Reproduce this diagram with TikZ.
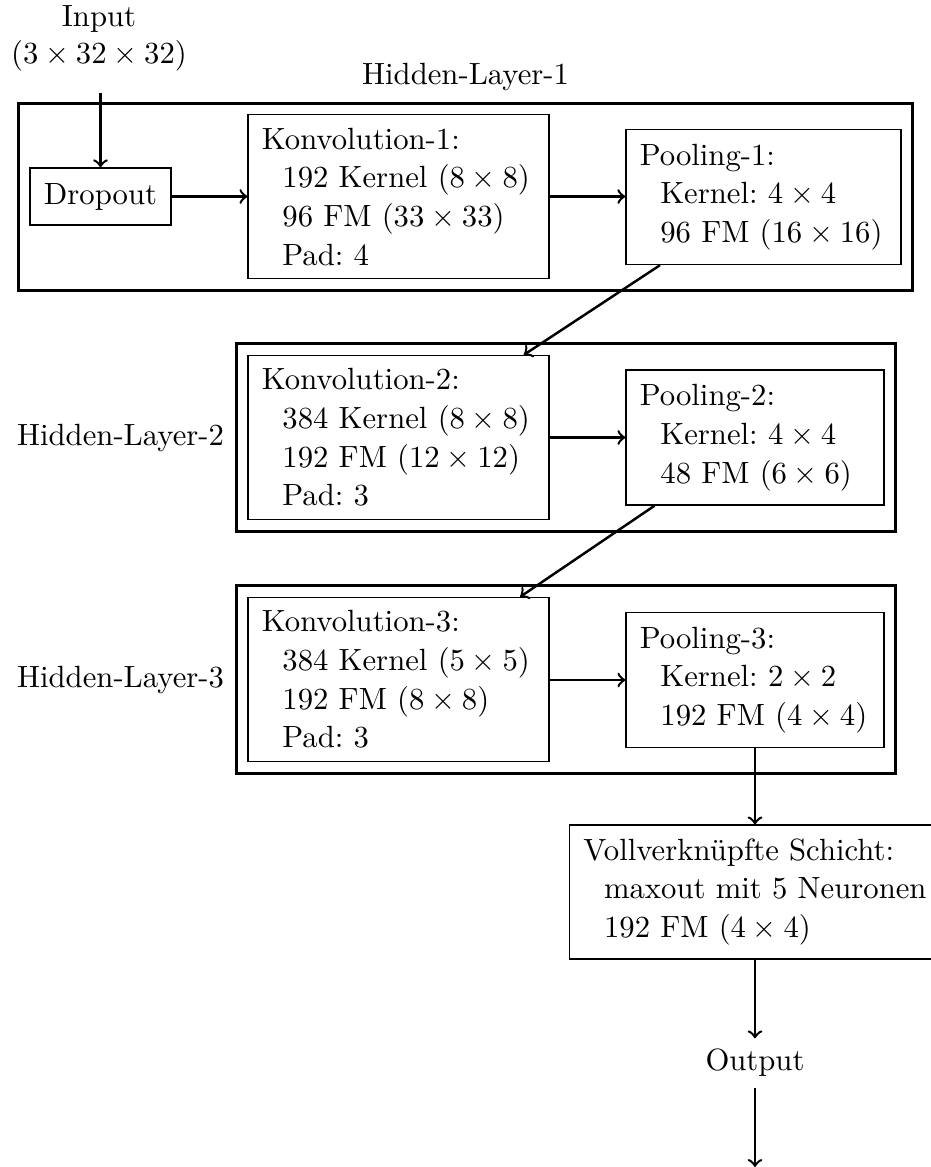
\documentclass[tikz,border=0pt]{standalone}
\usetikzlibrary{fit}
\newcommand\ind{\hspace*{6.7pt}}
\frenchspacing
\begin{document}
\begin{tikzpicture}[x=0.3257pt,y=-0.3257pt,
  box/.style={draw, line width=0.4pt, align=left, inner xsep=4.5pt, inner ysep=3pt,
    font=\fontsize{10}{12.6}\selectfont},
  convbox/.style={box, text width=89pt, minimum height=53.4pt},
  poolbox/.style={box, text width=#1, minimum height=44pt},
  layer/.style={draw, line width=1pt, inner sep=3.6pt},
  conn/.style={->, thick},
]
\useasboundingbox (0,0) rectangle (931,1167);

% input
\node[align=center] (in) at (99,38) {Input\\$(3\times 32\times 32)$};

% hidden layer 1
\node[box, minimum height=18.6pt] (drop) at (100.5,196.5) {Dropout};
\node[convbox] (konv1) at (398.5,196.7) {Konvolution-1:\\ \ind 192 Kernel $(8\times 8)$\\ \ind 96 FM $(33\times 33)$\\ \ind Pad: 4};
\node[poolbox=80.6pt] (pool1) at (763.5,197) {Pooling-1:\\ \ind Kernel: $4\times 4$\\ \ind 96 FM $(16\times 16)$};
\node[layer, fit=(drop)(konv1)(pool1), label=above:Hidden-Layer-1] (hl1) {};

% hidden layer 2
\node[convbox] (konv2) at (398.5,437.5) {Konvolution-2:\\ \ind 384 Kernel $(8\times 8)$\\ \ind 192 FM $(12\times 12)$\\ \ind Pad: 3};
\node[poolbox=75pt] (pool2) at (755,437.5) {Pooling-2:\\ \ind Kernel: $4\times 4$\\ \ind 48 FM $(6\times 6)$};
\node[layer, fit=(konv2)(pool2), label=left:Hidden-Layer-2] (hl2) {};

% hidden layer 3
\node[convbox] (konv3) at (398.5,679.5) {Konvolution-3:\\ \ind 384 Kernel $(5\times 5)$\\ \ind 192 FM $(8\times 8)$\\ \ind Pad: 3};
\node[poolbox=75pt] (pool3) at (755,680) {Pooling-3:\\ \ind Kernel: $2\times 2$\\ \ind 192 FM $(4\times 4)$};
\node[layer, fit=(konv3)(pool3), label=left:Hidden-Layer-3] (hl3) {};

% fully connected part and output
\node[box, minimum height=43.6pt] (voll) at (755,892) {Vollverkn\"upfte Schicht:\\ \ind maxout mit 5 Neuronen\\ \ind 192 FM $(4\times 4)$};
\node (out) at (755,1063) {Output};
\coordinate (end) at (755,1167);

% connectors
\draw[conn, shorten <=3.7pt] (drop.north |- in.south) -- (drop.north);
\draw[conn] (drop) -- (konv1.west |- drop.east);
\draw[conn] (konv1.east |- drop.east) -- (pool1.west |- drop.east);
\draw[conn] (pool1) -- (konv2);
\draw[conn] (konv2.east |- pool2.west) -- (pool2.west);
\draw[conn] (pool2) -- (konv3);
\draw[conn] (konv3.east |- pool3.west) -- (pool3.west);
\draw[conn] (pool3.south) -- (voll.north);
\draw[conn] (voll) -- (out);
\draw[conn] (out) -- (end);
\end{tikzpicture}
\end{document}
